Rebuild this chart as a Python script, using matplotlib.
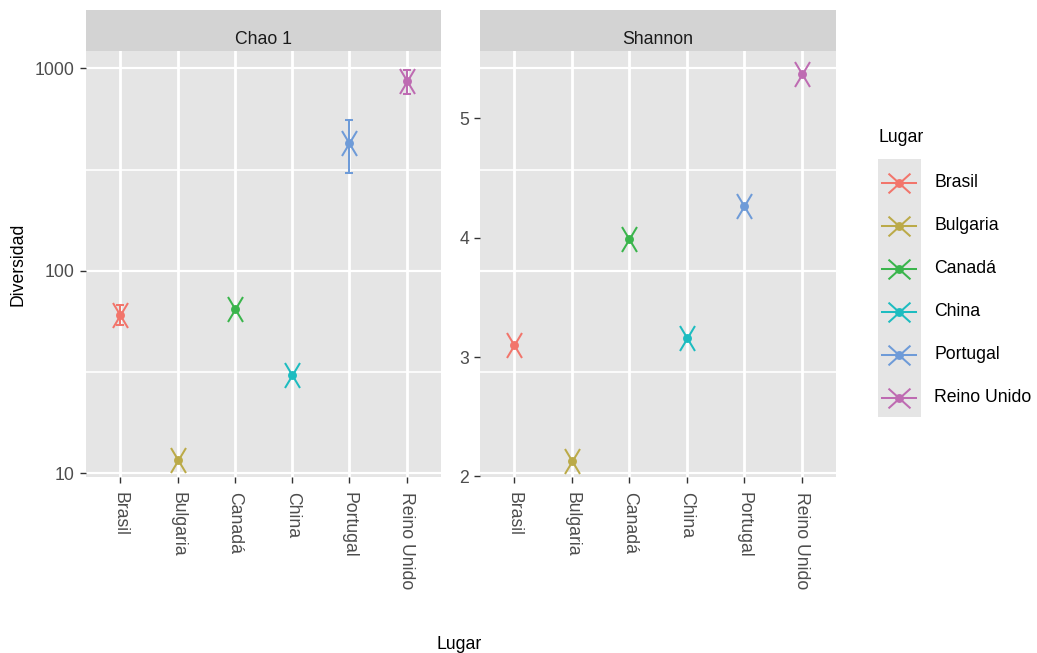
import numpy as np
import matplotlib
matplotlib.use("Agg")
import matplotlib.pyplot as plt
from matplotlib.path import Path

plt.rcParams['font.family'] = ['Liberation Sans', 'DejaVu Sans']

# ---------------- data ----------------
lugares = ["Brasil", "Bulgaria", "Canadá", "China", "Portugal", "Reino Unido"]
chao1 = [60.7, 11.6, 64.7, 30.6, 430.0, 863.0]
chao1_se = [6.9, np.nan, np.nan, np.nan, 127.5, 117.0]
shannon = [3.10, 2.125, 3.99, 3.16, 4.266, 5.372]
colores = ["#F2756B", "#BBAA48", "#3AB54C", "#1DBCC0", "#6E9BD8", "#BE6BB2"]
chao_ticks = [10, 100, 1000]
chao_minor = [10 ** 1.5, 10 ** 2.5]
shannon_ticks = [2, 3, 4, 5]
facetas = ["Chao 1", "Shannon"]

# ---------------- layout helpers ----------------
W, H = 1037, 653
fig = plt.figure(figsize=(W / 100, H / 100), dpi=100)
fig.patch.set_facecolor("white")


def px(x0, y0, x1, y1):
    return [x0 / W, 1 - y1 / H, (x1 - x0) / W, (y1 - y0) / H]


FS = 12.7
PANEL = "#E5E5E5"
STRIP = "#D3D3D3"
TICKC = "#333333"
TXTC = "#4D4D4D"
MEW = 1.45
MS_DOT = 6.4

ax1 = fig.add_axes(px(86, 50.5, 441, 477))
ax2 = fig.add_axes(px(480, 50.5, 836, 477))

xmark = Path([(-0.6, -1), (0.6, 1), (-0.6, 1), (0.6, -1)],
             [Path.MOVETO, Path.LINETO, Path.MOVETO, Path.LINETO])
xmark_leg = Path([(-1, -0.9), (1, 0.9), (-1, 0.9), (1, -0.9)],
                 [Path.MOVETO, Path.LINETO, Path.MOVETO, Path.LINETO])

xs = np.arange(len(lugares))

for ax in (ax1, ax2):
    ax.set_facecolor(PANEL)
    for s in ax.spines.values():
        s.set_visible(False)
    ax.set_xlim(-0.6, len(lugares) - 1 + 0.6)
    ax.set_xticks(xs)
    ax.set_xticklabels(lugares, rotation=-90, ha="center", va="top",
                       rotation_mode="default")
    ax.tick_params(axis="both", which="major", length=4, width=1,
                   color=TICKC, labelcolor=TXTC, labelsize=FS)
    ax.tick_params(axis="x", pad=7)
    ax.tick_params(axis="y", pad=4)
    ax.tick_params(which="minor", length=0)
    ax.grid(True, axis="x", which="major", color="white", lw=2.0)
    ax.set_axisbelow(True)

# ---- Chao 1 panel (log scale) ----
ax1.set_yscale("log")
ax1.set_ylim(9.59, 1224)
ax1.set_yticks(chao_ticks)
ax1.set_yticklabels([str(t) for t in chao_ticks])
ax1.set_yticks(chao_minor, minor=True)
ax1.yaxis.set_minor_formatter(matplotlib.ticker.NullFormatter())
ax1.grid(True, axis="y", which="major", color="white", lw=1.6)
ax1.grid(True, axis="y", which="minor", color="white", lw=1.2)

for i, (v, se, c) in enumerate(zip(chao1, chao1_se, colores)):
    if not np.isnan(se):
        ax1.errorbar([xs[i]], [v], yerr=[[se], [se]], fmt="none", ecolor=c,
                     elinewidth=MEW, capsize=2.6, capthick=MEW, zorder=3)
    ax1.plot([xs[i]], [v], ls="none", marker=xmark, ms=18, mew=MEW,
             mec=c, mfc="none", zorder=4)
    ax1.plot([xs[i]], [v], ls="none", marker="o", ms=MS_DOT, mfc=c, mec="none",
             zorder=5)

# ---- Shannon panel ----
ax2.set_ylim(1.995, 5.569)
ax2.set_yticks(shannon_ticks)
ax2.set_yticklabels([str(t) for t in shannon_ticks])
ax2.grid(False, axis="y")

# horizontal grid of the right panel sits at the same heights as the left one
fig.canvas.draw()
for vals, lw in ((chao_ticks, 1.6), (chao_minor, 1.2)):
    for v in vals:
        fr = ax1.transAxes.inverted().transform(ax1.transData.transform((0, v)))[1]
        ax2.plot([0, 1], [fr, fr], transform=ax2.transAxes, color="white",
                 lw=lw, zorder=0.5, clip_on=False)

for i, (v, c) in enumerate(zip(shannon, colores)):
    ax2.plot([xs[i]], [v], ls="none", marker=xmark, ms=18, mew=MEW,
             mec=c, mfc="none", zorder=4)
    ax2.plot([xs[i]], [v], ls="none", marker="o", ms=MS_DOT, mfc=c, mec="none",
             zorder=5)

# ---- strips ----
for rect, title in ((px(86, 9.5, 441, 50.5), facetas[0]),
                    (px(480, 9.5, 836, 50.5), facetas[1])):
    sax = fig.add_axes(rect)
    sax.set_facecolor(STRIP)
    sax.set_xticks([])
    sax.set_yticks([])
    for s in sax.spines.values():
        s.set_visible(False)
    sax.text(0.5, (50.5 - 44) / 41, title, transform=sax.transAxes,
             ha="center", va="baseline", fontsize=FS, color="#1A1A1A")

# ---- axis titles ----
fig.text(18.5 / W, 1 - 264 / H, "Diversidad", rotation=90, ha="center",
         va="center", fontsize=FS, color="black")
fig.text(459 / W, 1 - 649 / H, "Lugar", ha="center", va="baseline",
         fontsize=FS, color="black")

# ---- legend ----
fig.text(878 / W, 1 - 137 / H, "Lugar", ha="left", va="center", fontsize=FS,
         color="black")
lax = fig.add_axes(px(878, 159, 921, 417))
lax.set_facecolor(PANEL)
lax.set_xlim(0, 1)
lax.set_ylim(len(lugares), 0)
lax.set_xticks([])
lax.set_yticks([])
for s in lax.spines.values():
    s.set_visible(False)
for i, (lab, c) in enumerate(zip(lugares, colores)):
    yk = i + 0.55
    lax.plot([0.09, 0.89], [yk, yk], color=c, lw=MEW)
    lax.plot([0.49], [yk], ls="none", marker=xmark_leg, ms=15.8, mew=MEW,
             mec=c, mfc="none")
    lax.plot([0.49], [yk], ls="none", marker="o", ms=MS_DOT, mfc=c, mec="none")
    ypx = 159 + (417 - 159) * yk / len(lugares)
    fig.text(934 / W, 1 - ypx / H, lab, ha="left", va="center", fontsize=FS,
             color="black")

fig.savefig("out.png", dpi=100)
